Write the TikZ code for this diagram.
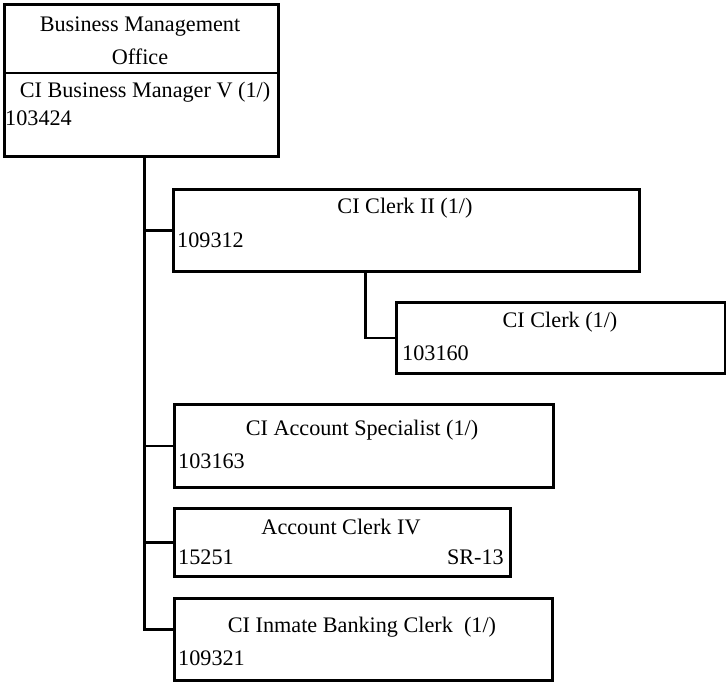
\documentclass[tikz,border=0pt]{standalone}
\usepackage{fontspec}
\setmainfont{Liberation Serif}
\usepackage{tikz}
\usetikzlibrary{calc,positioning}

\tikzset{
  posbox/.style={draw, line width=2.5pt, anchor=north west, inner sep=0pt},
  lbl/.style={inner sep=0pt, font=\fontsize{22.2}{26}\selectfont},
  link/.style={draw, line width=2.5pt}
}

\begin{document}
\begin{tikzpicture}[x=1pt,y=-1pt]
\useasboundingbox (0,0) rectangle (726,681);
% boxes
\node[posbox, minimum width=274pt, minimum height=152pt] (bmo) at (3,3) {};
\draw[line width=2.5pt] (bmo.west |- 0,73) -- (bmo.east |- 0,73);
\node[posbox, minimum width=466pt, minimum height=82pt] (clktwo) at (172,188) {};
\node[posbox, minimum width=329pt, minimum height=71pt] (clk) at (395,301) {};
\node[posbox, minimum width=379pt, minimum height=83pt] (acs) at (173,403) {};
\node[posbox, minimum width=336pt, minimum height=68pt] (acc) at (173,507) {};
\node[posbox, minimum width=378pt, minimum height=82pt] (inb) at (173,597) {};
% texts
\node[lbl] (bmoA) at (140,27) {Business Management};
\node[lbl] (bmoB) at (140,57) {Office};
\node[lbl] (bmoC) at (145,92) {CI Business Manager V (1/)};
\node[lbl, anchor=west] (bmoD) at (5,118) {103424};
\node[lbl] (clktwoA) at (405,208) {CI Clerk II (1/)};
\node[lbl, anchor=west] (clktwoB) at (177,240) {109312};
\node[lbl] (clkA) at (560,322) {CI Clerk (1/)};
\node[lbl, anchor=west] (clkB) at (402,353) {103160};
\node[lbl] (acsA) at (362,430) {CI Account Specialist (1/)};
\node[lbl, anchor=west] (acsB) at (178,461) {103163};
\node[lbl] (accA) at (341,527) {Account Clerk IV};
\node[lbl, anchor=west] (accB) at (178,557) {15251};
\node[lbl, anchor=east] (accC) at (504,557) {SR-13};
\node[lbl] (inbA) at (362,627) {CI Inmate Banking Clerk~~(1/)};
\node[lbl, anchor=west] (inbB) at (178,658) {109321};
% connectors
\coordinate (trunk) at ([xshift=3pt]bmo.south);
\draw[link] (trunk) |- ([yshift=10pt]inb.west);
\draw[link] (clktwo.west -| trunk) -- (clktwo.west);
\draw[link] (acs.west -| trunk) -- (acs.west);
\draw[link] (acc.west -| trunk) -- (acc.west);
\draw[link] ([xshift=-41pt]clktwo.south) |- (clk.west);
\end{tikzpicture}
\end{document}
